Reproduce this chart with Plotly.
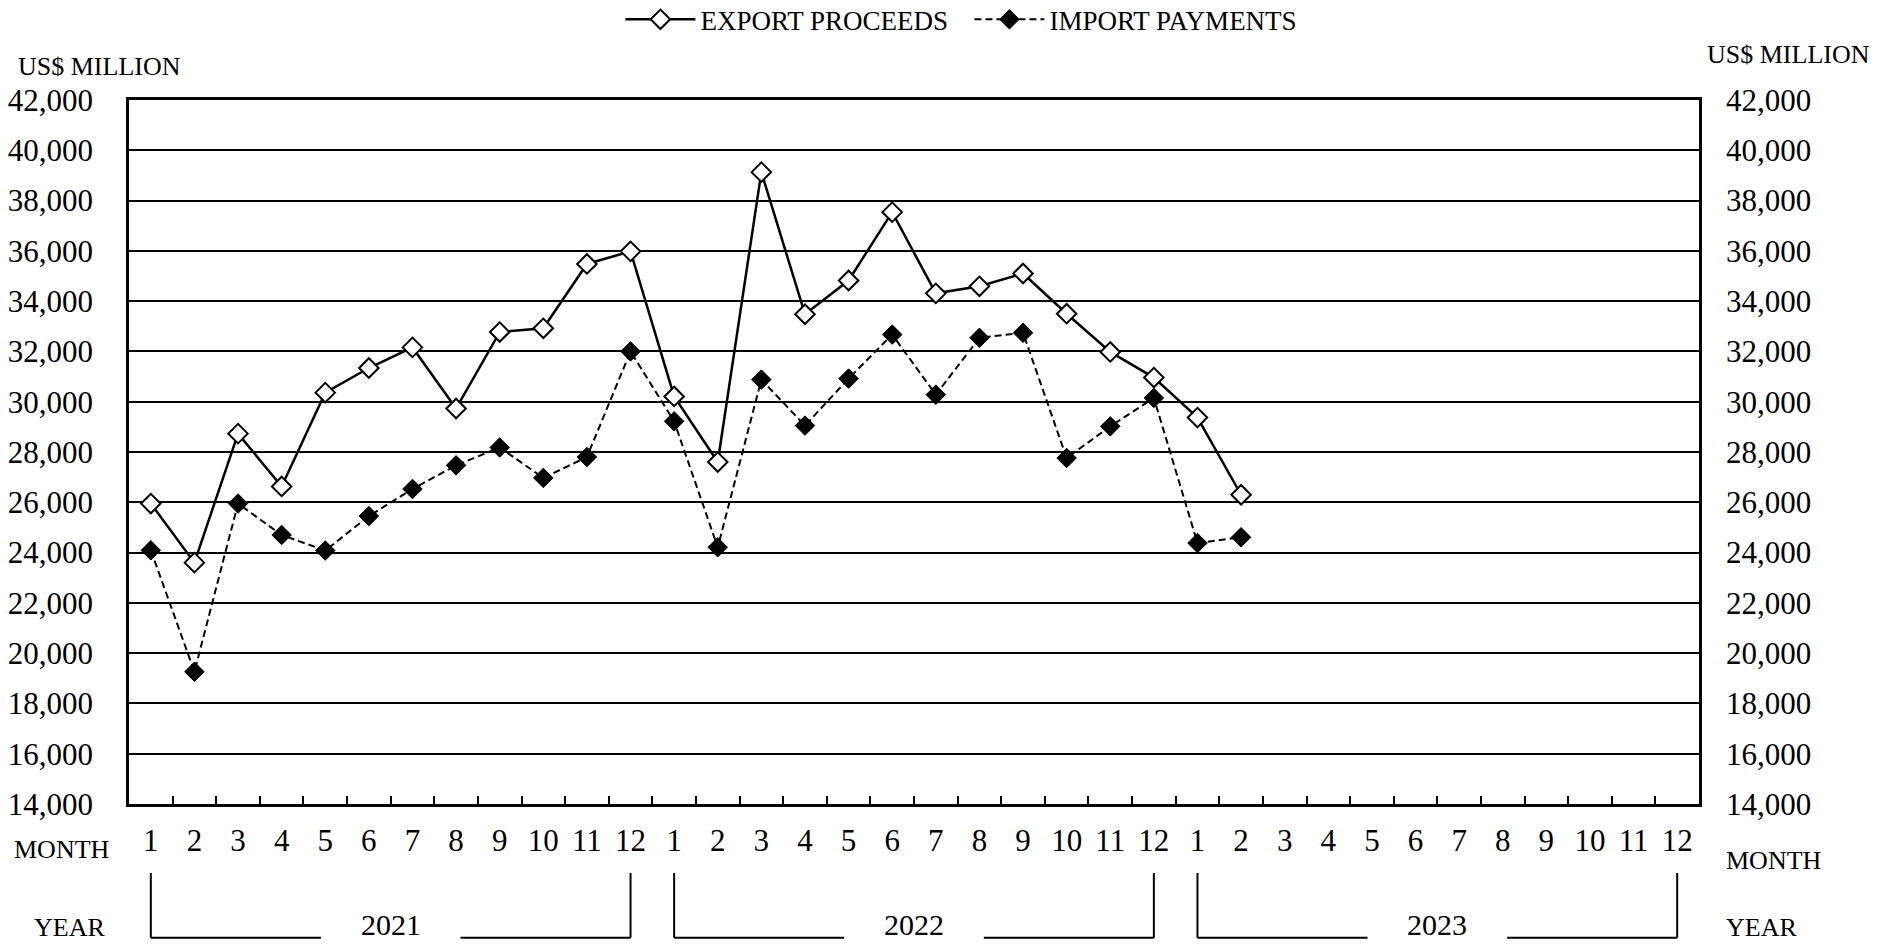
import plotly.graph_objects as go

# ---- data ----
months = list(range(1, 37))
month_labels = [str(m) for m in list(range(1, 13)) * 3]
years = ["2021", "2022", "2023"]
export_proceeds = [25950, 23600, 28730, 26630, 30360, 31340, 32160, 29730, 32770, 32920, 35480, 35980,
                   30210, 27600, 39130, 33480, 34820, 37540, 34310, 34590, 35100, 33500, 31980, 30960,
                   29370, 26300]
import_payments = [24090, 19260, 25950, 24700, 24080, 25450, 26530, 27470, 28180, 26970, 27800, 32000,
                   29220, 24210, 30880, 29050, 30920, 32670, 30280, 32540, 32740, 27760, 29020, 30150,
                   24380, 24610]
y_ticks = list(range(14000, 42001, 2000))

FONT = "Liberation Serif"
x_exp = months[:len(export_proceeds)]
x_imp = months[:len(import_payments)]

fig = go.Figure()
fig.add_trace(go.Scatter(
    x=x_exp, y=export_proceeds, name="EXPORT PROCEEDS", mode="lines+markers",
    line=dict(color="black", width=2.5),
    marker=dict(symbol="diamond", size=15, color="white", line=dict(color="black", width=2)),
))
fig.add_trace(go.Scatter(
    x=x_imp, y=import_payments, name="IMPORT PAYMENTS", mode="lines+markers",
    line=dict(color="black", width=2, dash="7px,4px"),
    marker=dict(symbol="diamond", size=15, color="black", line=dict(color="black", width=1)),
))
# invisible trace to activate the secondary axes (right y labels, boundary ticks)
fig.add_trace(go.Scatter(
    x=x_exp, y=export_proceeds, xaxis="x2", yaxis="y2", mode="lines",
    line=dict(width=0, color="rgba(0,0,0,0)"), showlegend=False, hoverinfo="skip",
))

axis_font = dict(family=FONT, size=31, color="black")
fig.update_layout(
    width=1892, height=944,
    margin=dict(l=129, r=193, t=100, b=140, autoexpand=False),
    paper_bgcolor="white", plot_bgcolor="white",
    font=dict(family=FONT, color="black"),
    xaxis=dict(
        range=[0.5, 36.5], tickvals=months, ticktext=month_labels,
        ticks="", showgrid=False, zeroline=False,
        showline=True, linecolor="black", linewidth=2.5, mirror=True,
        tickfont=axis_font, ticklabelstandoff=7,
    ),
    xaxis2=dict(
        overlaying="x", range=[0.5, 36.5], side="bottom",
        tickvals=[m + 0.5 for m in months[:-1]], ticks="inside", ticklen=8,
        tickwidth=2, tickcolor="black", showticklabels=False,
        showgrid=False, zeroline=False, showline=False,
    ),
    yaxis=dict(
        range=[14000, 42000], tickvals=y_ticks, tickformat=",",
        ticks="", showgrid=True, gridcolor="black", gridwidth=2, zeroline=False,
        showline=True, linecolor="black", linewidth=2.5, mirror=True,
        tickfont=axis_font, ticklabelstandoff=27,
    ),
    yaxis2=dict(
        overlaying="y", side="right", range=[14000, 42000], tickvals=y_ticks,
        tickformat=",", ticks="", showgrid=False, zeroline=False, showline=False,
        tickfont=axis_font, ticklabelstandoff=26,
    ),
    legend=dict(
        orientation="h", x=0.313, y=1.114, xanchor="left", yanchor="middle",
        font=dict(family=FONT, size=27, color="black"), itemwidth=70,
        entrywidth=264, entrywidthmode="pixels",
        bgcolor="rgba(0,0,0,0)",
    ),
    showlegend=True,
)

lab_font = dict(family=FONT, size=26, color="black")
fig.add_annotation(text="US$ MILLION", xref="paper", yref="paper", x=-0.019, y=1.048,
                   xanchor="center", yanchor="middle", showarrow=False, font=lab_font)
fig.add_annotation(text="US$ MILLION", xref="paper", yref="paper", x=1.057, y=1.065,
                   xanchor="center", yanchor="middle", showarrow=False, font=lab_font)
fig.add_annotation(text="MONTH", xref="paper", yref="paper", x=-0.0427, y=-0.064,
                   xanchor="center", yanchor="middle", showarrow=False, font=lab_font)
fig.add_annotation(text="YEAR", xref="paper", yref="paper", x=-0.0376, y=-0.175,
                   xanchor="center", yanchor="middle", showarrow=False, font=lab_font)
fig.add_annotation(text="MONTH", xref="paper", yref="paper", x=1.048, y=-0.08,
                   xanchor="center", yanchor="middle", showarrow=False, font=lab_font)
fig.add_annotation(text="YEAR", xref="paper", yref="paper", x=1.0395, y=-0.175,
                   xanchor="center", yanchor="middle", showarrow=False, font=lab_font)

# year brackets
y_top, y_bot = -0.098, -0.190
for i, yr in enumerate(years):
    a, b = months[12 * i], months[12 * i + 11]
    c = (a + b) / 2
    line = dict(color="black", width=2)
    fig.add_shape(type="line", xref="x", yref="paper", x0=a, x1=a, y0=y_top, y1=y_bot, line=line)
    fig.add_shape(type="line", xref="x", yref="paper", x0=b, x1=b, y0=y_top, y1=y_bot, line=line)
    fig.add_shape(type="line", xref="x", yref="paper", x0=a, x1=c - 1.6, y0=y_bot, y1=y_bot, line=line)
    fig.add_shape(type="line", xref="x", yref="paper", x0=c + 1.6, x1=b, y0=y_bot, y1=y_bot, line=line)
    fig.add_annotation(text=yr, xref="x", yref="paper", x=c, y=-0.171,
                       xanchor="center", yanchor="middle", showarrow=False,
                       font=dict(family=FONT, size=30, color="black"))

fig.write_html("out.html", config={"displayModeBar": False},
               post_script="document.body.style.margin='0';document.body.style.overflow='hidden';")
